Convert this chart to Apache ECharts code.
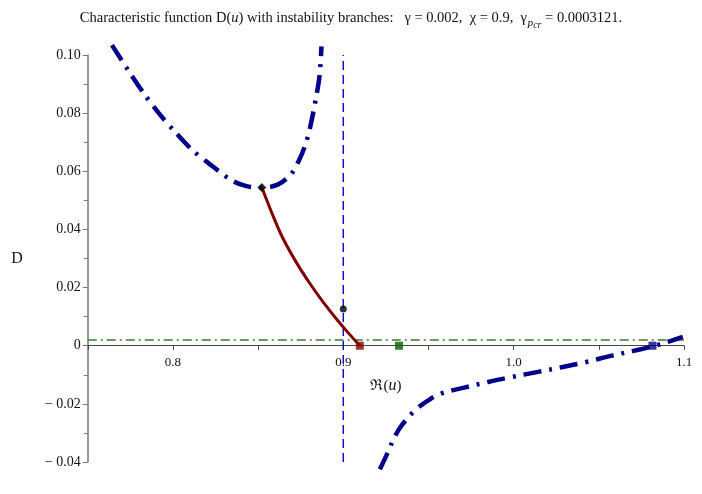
<!DOCTYPE html>
<html>
<head>
<meta charset="utf-8">
<script src="https://cdn.jsdelivr.net/npm/echarts@6/dist/echarts.min.js"></script>
<style>html,body{margin:0;padding:0;background:#fff}#c{width:702px;height:494px}</style>
</head>
<body>
<div id="c"></div>
<script>
// ---- data ----
var blueLeftU = [0.7642, 0.7748, 0.7836, 0.7918, 0.8002, 0.8110, 0.8207, 0.8344, 0.8432, 0.8524, 0.8618, 0.8696, 0.8745, 0.8780, 0.8804, 0.8843, 0.8862, 0.8872];
var blueLeftD = [0.1034, 0.0938, 0.0862, 0.0799, 0.0742, 0.0675, 0.0629, 0.0569, 0.0549, 0.0543, 0.0555, 0.0592, 0.0644, 0.0696, 0.0747, 0.0862, 0.0936, 0.1030];
var blueRightU = [0.9215, 0.9263, 0.9302, 0.9347, 0.9419, 0.9497, 0.9566, 0.9703, 0.9850, 0.9977, 1.0143, 1.0289, 1.0426, 1.0563, 1.0710, 1.0817, 1.0915, 1.0993];
var blueRightD = [-0.0425, -0.0365, -0.0313, -0.0271, -0.0224, -0.0189, -0.0166, -0.0145, -0.0125, -0.0109, -0.0090, -0.0073, -0.0056, -0.0036, -0.0017, -0.0002, 0.0015, 0.0030];
var redU = [0.8522, 0.8588, 0.8647, 0.8726, 0.8804, 0.8882, 0.8960, 0.9019, 0.9097];
var redD = [0.0544, 0.0446, 0.0368, 0.0285, 0.0214, 0.0150, 0.0092, 0.0051, 0.0000];
var gammaLevel = 0.002;
var chiLine = 0.9;
var blackDots = [[0.8522, 0.0544], [0.9, 0.0126]];
var redSquare = [0.9097, 0];
var greenSquare = [0.9327, 0];
var navySquare = [1.0815, 0];
var xMin = 0.75, xMax = 1.1, yMin = -0.04, yMax = 0.10;
var xTickStep = 0.05, yTickStep = 0.02;

function zip(a, b) { return a.map(function (v, i) { return [v, b[i]]; }); }

var serif = '"Liberation Serif", "DejaVu Serif", serif';
var gridTop = 55, gridBottom = 32, H = 494;
var plotH = H - gridTop - gridBottom;
// move the x axis up to D = 0
var zeroOffset = -plotH * (0 - yMin) / (yMax - yMin);

var chart = echarts.init(document.getElementById('c'), null, { renderer: 'canvas' });
chart.setOption({
  animation: false,
  backgroundColor: '#ffffff',
  title: {
    text: '{n|Characteristic function D(}{i|u}{n|) with instability branches:   γ = 0.002,  χ = 0.9,  γ}{s|Pcr}{n| = 0.0003121.}',
    left: 'center', top: 3,
    textStyle: {
      fontWeight: 'normal',
      rich: {
        n: { fontFamily: serif, fontSize: 14.5, fontWeight: 'normal', color: '#111', lineHeight: 18, verticalAlign: 'bottom' },
        i: { fontFamily: serif, fontSize: 14.5, fontWeight: 'normal', fontStyle: 'italic', color: '#111', lineHeight: 18, verticalAlign: 'bottom' },
        s: { fontFamily: serif, fontSize: 10, fontWeight: 'normal', fontStyle: 'italic', color: '#111', lineHeight: 10, verticalAlign: 'bottom', padding: [0, 0, -4, 0] }
      }
    }
  },
  grid: { left: 87.75, right: 18, top: gridTop, bottom: gridBottom, containLabel: false, outerBoundsMode: 'none' },
  xAxis: {
    type: 'value', min: xMin, max: xMax, interval: xTickStep,
    offset: zeroOffset,
    axisLine: { onZero: false, lineStyle: { color: '#444', width: 1 } },
    axisTick: { show: true, length: 4, lineStyle: { color: '#444' } },
    splitLine: { show: false },
    axisLabel: {
      fontFamily: serif, fontSize: 13, color: '#111', margin: 10,
      formatter: function (v) {
        var k = Math.round(v * 100);
        if (k % 10 !== 0 || k === 75) return '';
        return (k / 100).toFixed(1);
      }
    },
    name: '{r|ℜ}{n|(}{i|u}{n|)}', nameLocation: 'middle', nameGap: 32,
    nameTextStyle: {
      rich: {
        r: { fontFamily: serif, fontSize: 15, color: '#111' },
        n: { fontFamily: serif, fontSize: 15, color: '#111' },
        i: { fontFamily: serif, fontSize: 16, fontStyle: 'italic', color: '#111' }
      }
    }
  },
  yAxis: {
    type: 'value', min: yMin, max: yMax, interval: yTickStep,
    axisLine: { show: true, onZero: false, lineStyle: { color: '#777', width: 1.5 } },
    axisTick: { show: true, length: 5, lineStyle: { color: '#777' } },
    minorTick: { show: true, splitNumber: 2, length: 4, lineStyle: { color: '#777' } },
    splitLine: { show: false },
    axisLabel: {
      fontFamily: serif, fontSize: 14, color: '#111', margin: 7,
      formatter: function (v) {
        if (Math.abs(v) < 1e-9) return '0';
        if (v < 0) return '\u2212 ' + (-v).toFixed(2);
        return v.toFixed(2);
      }
    },
    name: 'D', nameLocation: 'middle', nameGap: 65, nameRotate: 0,
    nameTextStyle: { fontFamily: serif, fontSize: 16, color: '#111' }
  },
  series: [
    {
      type: 'line', data: [[xMin, gammaLevel], [xMax, gammaLevel]], symbol: 'none',
      lineStyle: { color: '#3d7a35', width: 1.5, type: [9, 4, 2, 4] }, z: 2
    },
    {
      type: 'line', data: [[chiLine, yMin], [chiLine, yMax]], symbol: 'none',
      lineStyle: { color: '#1010c8', width: 1.5, type: [9, 5] }, z: 3
    },
    {
      type: 'line', data: zip(blueLeftU, blueLeftD), symbol: 'none', smooth: 0.3, clip: false,
      lineStyle: { color: '#00008b', width: 4.5, type: [18, 8, 3, 8] }, z: 4
    },
    {
      type: 'line', data: zip(blueRightU, blueRightD), symbol: 'none', smooth: 0.4, clip: false,
      lineStyle: { color: '#00008b', width: 4.5, type: [18, 8, 3, 8] }, z: 4
    },
    {
      type: 'line', data: zip(redU, redD), symbol: 'none', smooth: 0.3,
      lineStyle: { color: '#800000', width: 3 }, z: 5
    },
    {
      type: 'scatter', data: [blackDots[0]], symbol: 'diamond', symbolSize: 9,
      itemStyle: { color: '#000' }, z: 6
    },
    {
      type: 'scatter', data: [blackDots[1]], symbol: 'circle', symbolSize: 7,
      itemStyle: { color: '#000' }, z: 6
    },
    {
      type: 'scatter', data: [redSquare], symbol: 'rect', symbolSize: 8,
      itemStyle: { color: '#8b0000' }, z: 6
    },
    {
      type: 'scatter', data: [greenSquare], symbol: 'rect', symbolSize: 8,
      itemStyle: { color: '#006400' }, z: 6
    },
    {
      type: 'scatter', data: [navySquare], symbol: 'rect', symbolSize: 8,
      itemStyle: { color: '#000080' }, z: 6
    }
  ]
});
</script>
</body>
</html>
